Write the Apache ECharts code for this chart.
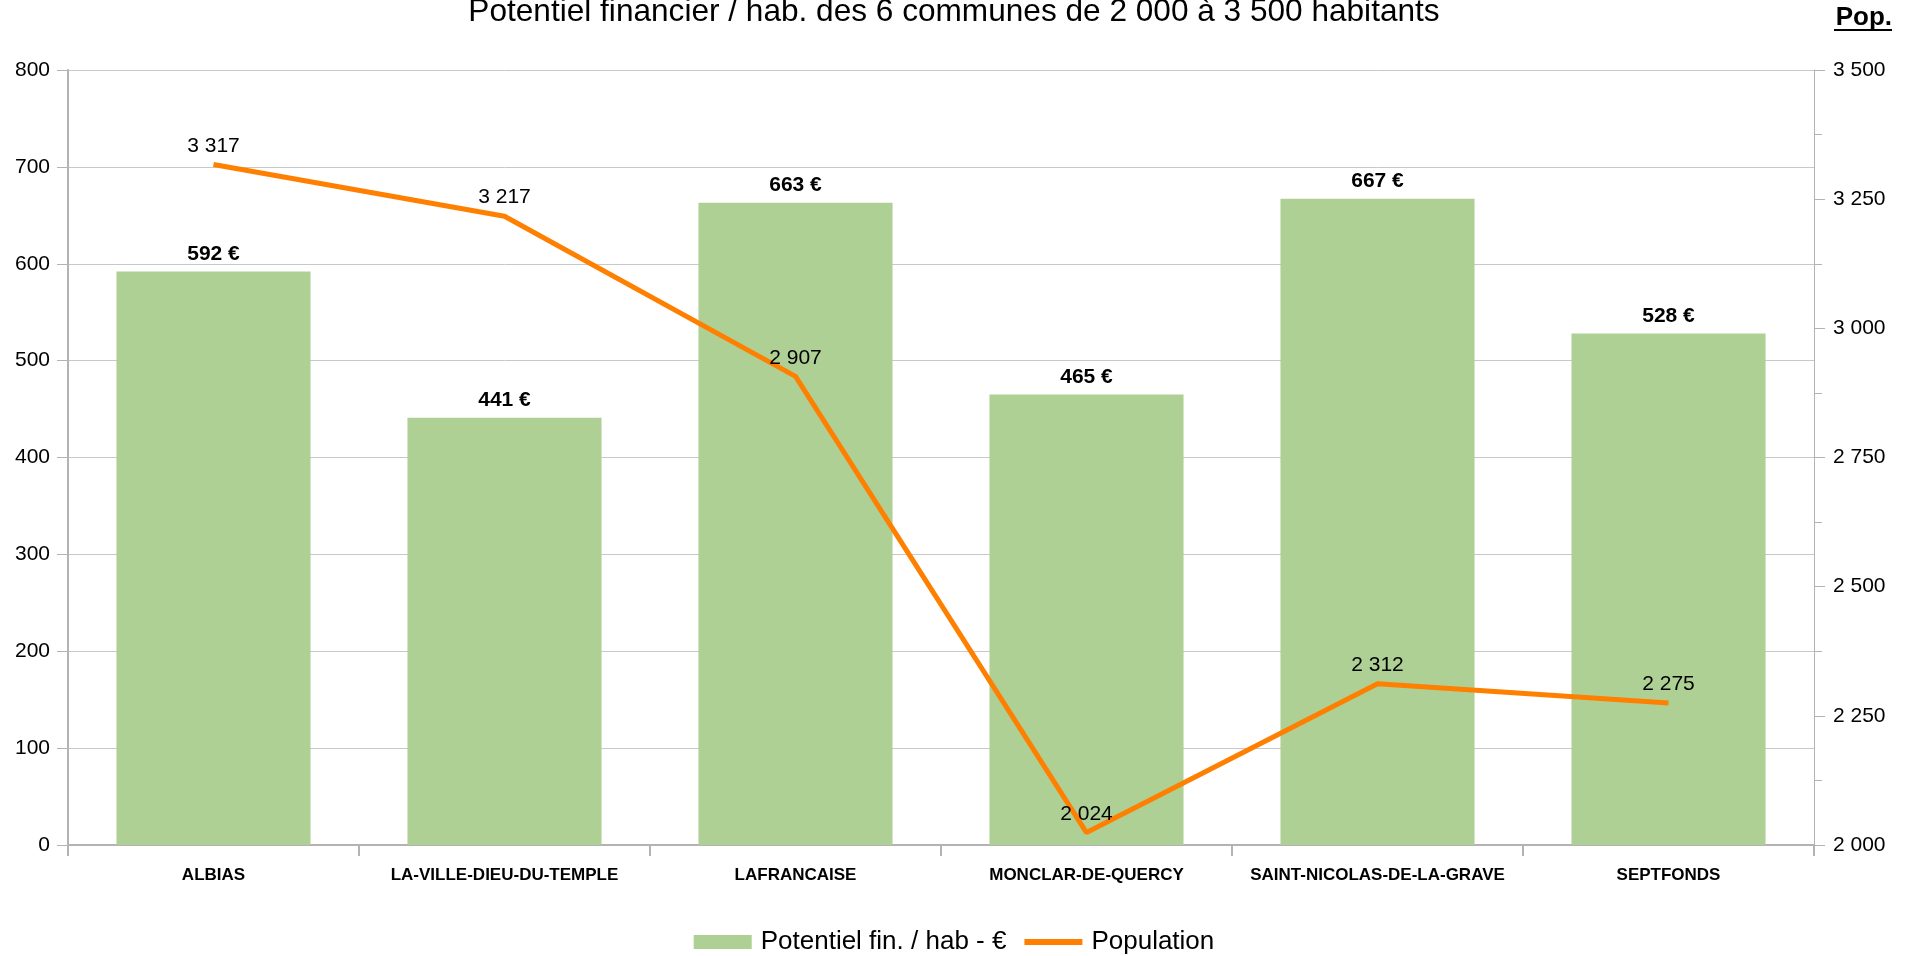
<!DOCTYPE html>
<html>
<head>
<meta charset="utf-8">
<script src="https://cdn.jsdelivr.net/npm/echarts@6/dist/echarts.min.js"></script>
<style>
  html, body { margin: 0; padding: 0; background: #fff; }
  #chart { width: 1908px; height: 956px; }
</style>
</head>
<body>
<div id="chart"></div>
<script>
// données
const communes = ["ALBIAS", "LA-VILLE-DIEU-DU-TEMPLE", "LAFRANCAISE", "MONCLAR-DE-QUERCY", "SAINT-NICOLAS-DE-LA-GRAVE", "SEPTFONDS"];
const potentiel = [592, 441, 663, 465, 667, 528];
const population = [3317, 3217, 2907, 2024, 2312, 2275];

const FONT = "Liberation Sans, Arial, sans-serif";

// séparateur de milliers avec espace
const fmt = v => String(v).replace(/\B(?=(\d{3})+(?!\d))/g, " ");

const chart = echarts.init(document.getElementById("chart"));
chart.setOption({
    animation: false,
    textStyle: { fontFamily: FONT },
    title: {
        text: "Potentiel financier / hab. des 6 communes de 2 000 à 3 500 habitants",
        left: "center",
        top: -9,
        textStyle: { fontFamily: FONT, fontWeight: "normal", fontSize: 31.6, color: "#000" },
    },
    graphic: [
        {
            type: "text",
            right: 16,
            top: 5,
            style: { text: "Pop.", font: "bold 26px " + FONT, fill: "#000" },
        },
        {
            type: "rect",
            right: 16,
            top: 29,
            shape: { width: 58, height: 2 },
            style: { fill: "#000" },
        },
    ],
    legend: {
        bottom: -4,
        left: "center",
        itemGap: 18,
        itemWidth: 58,
        itemHeight: 14,
        textStyle: { fontFamily: FONT, fontSize: 26, color: "#000", padding: [0, 0, 0, 4] },
        data: [
            { name: "Potentiel fin. / hab - €", icon: "rect" },
            { name: "Population", icon: "path://M0,0H60V6H0Z", itemStyle: { color: "#ff8000" } },
        ],
    },
    grid: { left: 68, right: 94, top: 70, bottom: 111, containLabel: false },
    xAxis: {
        type: "category",
        data: communes,
        axisLine: { lineStyle: { color: "#b3b3b3", width: 2 } },
        axisTick: { show: true, interval: 0, length: 11, lineStyle: { color: "#b3b3b3", width: 2 } },
        axisLabel: { interval: 0, fontFamily: FONT, fontWeight: "bold", fontSize: 17, color: "#000", margin: 22 },
    },
    yAxis: [
        {
            type: "value",
            min: 0,
            max: 800,
            interval: 100,
            axisLine: { show: true, lineStyle: { color: "#b3b3b3", width: 2 } },
            axisTick: { show: true, length: 11, lineStyle: { color: "#b3b3b3" } },
            axisLabel: { fontFamily: FONT, fontSize: 21, color: "#000", margin: 18 },
            splitLine: { lineStyle: { color: "#c8c8c8", width: 1 } },
        },
        {
            type: "value",
            min: 2000,
            max: 3500,
            interval: 250,
            position: "right",
            axisLine: { show: true, lineStyle: { color: "#b3b3b3", width: 1 } },
            axisTick: { show: true, length: 11, lineStyle: { color: "#b3b3b3" } },
            minorTick: { show: true, splitNumber: 2, length: 8, lineStyle: { color: "#b3b3b3" } },
            axisLabel: { fontFamily: FONT, fontSize: 21, color: "#000", margin: 19, formatter: fmt },
            splitLine: { show: false },
        },
    ],
    series: [
        {
            name: "Potentiel fin. / hab - €",
            type: "bar",
            data: potentiel,
            barWidth: "66.7%",
            itemStyle: { color: "#afd095" },
            label: {
                show: true,
                position: "top",
                distance: 7,
                formatter: p => p.value + " €",
                fontFamily: FONT,
                fontWeight: "bold",
                fontSize: 21,
                color: "#000",
            },
        },
        {
            name: "Population",
            type: "line",
            yAxisIndex: 1,
            data: population,
            showSymbol: true,
            symbol: "circle",
            symbolSize: 0.1,
            itemStyle: { color: "#ff8000" },
            lineStyle: { color: "#ff8000", width: 5 },
            label: {
                show: true,
                position: "top",
                distance: 8,
                formatter: p => fmt(p.value),
                fontFamily: FONT,
                fontSize: 21,
                color: "#000",
            },
        },
    ],
});
</script>
</body>
</html>
